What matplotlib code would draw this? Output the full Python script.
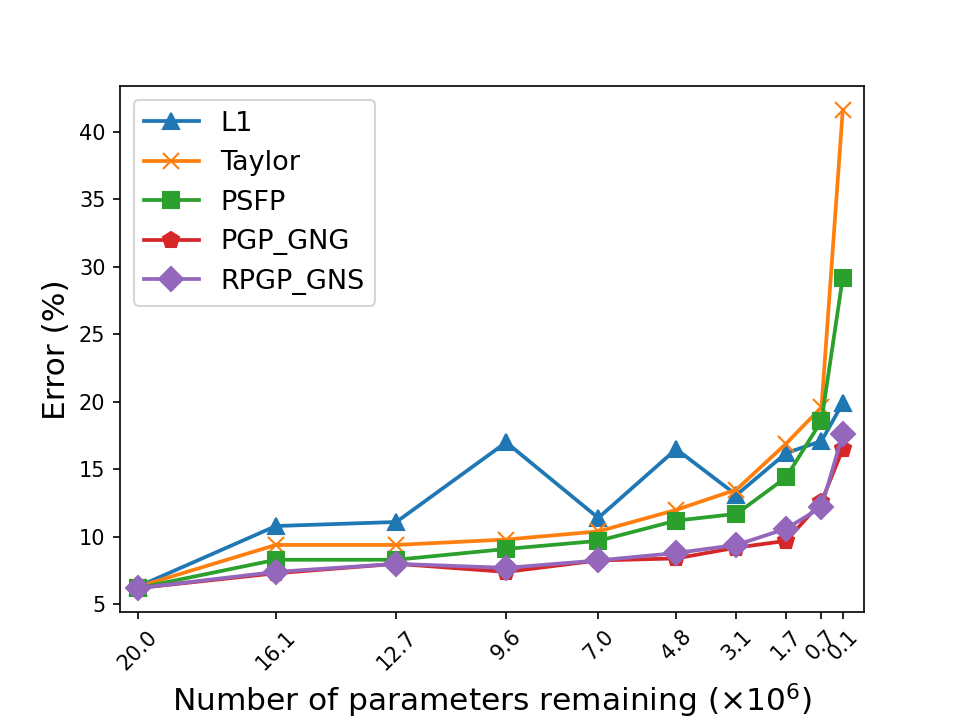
import numpy as np
import matplotlib
matplotlib.use('Agg')
import matplotlib.pyplot as plt

# parameters remaining (x10^6)
params = [20.0, 16.1, 12.7, 9.6, 7.0, 4.8, 3.1, 1.7, 0.7, 0.1]
tick_labels = ['20.0', '16.1', '12.7', '9.6', '7.0', '4.8', '3.1', '1.7', '0.7', '0.1']

# error (%) for each method
err_l1 = [6.3, 10.8, 11.1, 17.0, 11.4, 16.5, 13.1, 16.2, 17.1, 19.9]
err_taylor = [6.3, 9.4, 9.4, 9.8, 10.4, 12.0, 13.5, 16.9, 19.6, 41.6]
err_psfp = [6.2, 8.3, 8.3, 9.1, 9.7, 11.2, 11.7, 14.4, 18.6, 29.2]
err_pgp = [6.2, 7.3, 8.0, 7.4, 8.25, 8.4, 9.2, 9.7, 12.6, 16.5]
err_rpgp = [6.2, 7.4, 8.0, 7.7, 8.25, 8.8, 9.4, 10.6, 12.2, 17.6]

fig = plt.figure(figsize=(6.4, 4.8), dpi=150)
ax = fig.add_subplot(111)
fig.subplots_adjust(bottom=0.15)

ms = 8
lw = 1.8
ax.plot(params, err_l1, marker='^', markersize=ms, lw=lw, color='tab:blue', label='L1')
ax.plot(params, err_taylor, marker='x', markersize=ms, lw=lw, color='tab:orange', label='Taylor')
ax.plot(params, err_psfp, marker='s', markersize=ms, lw=lw, color='tab:green', label='PSFP')
ax.plot(params, err_pgp, marker='p', markersize=ms, lw=lw, color='tab:red', label='PGP_GNG')
ax.plot(params, err_rpgp, marker='D', markersize=ms, lw=lw, color='tab:purple', label='RPGP_GNS')

ax.set_xlim(20.5, -0.5)
ax.set_xticks(params)
ax.set_xticklabels(tick_labels, rotation=45)
ax.set_xlabel('Number of parameters remaining ($\\times10^6$)', fontsize=15)
ax.set_ylabel('Error (%)', fontsize=15)
ax.legend(fontsize=13)

fig.savefig('out.png', dpi=150)
